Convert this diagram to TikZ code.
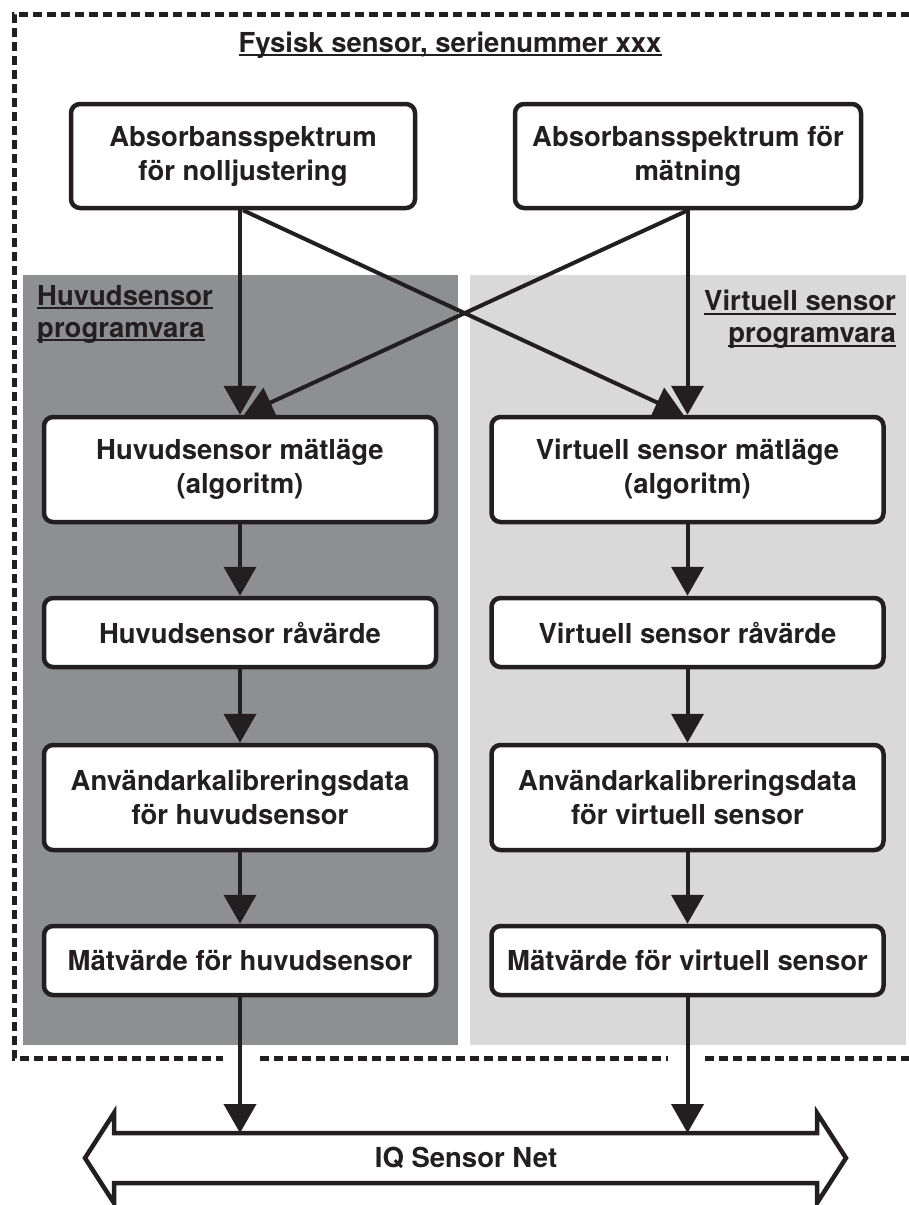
\documentclass[tikz,border=0pt]{standalone}
\usepackage{fontspec}
\setmainfont{TeX Gyre Heros}
\usetikzlibrary{arrows.meta}
\definecolor{ink}{HTML}{231F20}
\definecolor{darkpanel}{HTML}{8E8F91}
\definecolor{lightpanel}{HTML}{D9D9D9}
\newlength\myulw
\newcommand\myul[1]{\settowidth\myulw{#1}\rlap{\rule[-4pt]{\myulw}{2pt}}#1}
\begin{document}
\begin{tikzpicture}[x=1pt,y=-1pt,
  every node/.style={font=\fontsize{27.5}{34}\selectfont\bfseries, text=ink},
  box/.style={draw=ink, line width=4.5pt, rounded corners=9pt, fill=white, align=center, inner sep=0pt},
  colbox/.style={box, minimum width=392pt},
  arr/.style={draw=ink, line width=4pt, -{Triangle[width=32pt,length=29pt]}},
  border/.style={draw=ink, line width=5pt, dash pattern=on 9pt off 5pt},
  lbl/.style={inner sep=0pt, font=\fontsize{27.5}{32}\selectfont\bfseries},
]
\useasboundingbox (0,0) rectangle (908,1205);
% outer dashed border (right side lies outside the picture)
\draw[border] (910,14) -- (14,14) -- (14,1058) -- (223,1058);
\draw[border] (260,1058) -- (668,1058);
\draw[border] (705,1058) -- (910,1058);
% panels
\fill[darkpanel] (23,275) rectangle (458,1045);
\fill[lightpanel] (470,275) rectangle (906,1045);
% title and panel labels
\node[anchor=base, inner sep=0pt] (title) at (450,52) {\myul{Fysisk sensor, serienummer xxx}};
\node[lbl, anchor=north west, align=left] (hlab) at (37,285) {\myul{Huvudsensor}\\\myul{programvara}};
\node[lbl, anchor=north east, align=right] (vlab) at (896,290) {\myul{Virtuell sensor}\\\myul{programvara}};
% boxes
\node[box, minimum width=344pt, minimum height=104pt] (tl) at (243,156) {Absorbansspektrum\\för nolljustering};
\node[box, minimum width=346pt, minimum height=104pt] (tr) at (688,156) {Absorbansspektrum för\\mätning};
\node[colbox, minimum height=105pt] (ml) at (240,469.5) {Huvudsensor mätläge\\(algoritm)};
\node[colbox, minimum height=105pt] (mr) at (687.5,469.5) {Virtuell sensor mätläge\\(algoritm)};
\node[colbox, minimum height=69pt] (rl) at (240,632.5) {Huvudsensor råvärde};
\node[colbox, minimum height=69pt] (rr) at (687.5,632.5) {Virtuell sensor råvärde};
\node[colbox, minimum height=105pt] (kl) at (240,797.5) {Användarkalibreringsdata\\för huvudsensor};
\node[colbox, minimum height=105pt] (kr) at (687.5,797.5) {Användarkalibreringsdata\\för virtuell sensor};
\node[colbox, minimum height=69pt] (vl) at (240,960.5) {Mätvärde för huvudsensor};
\node[colbox, minimum height=69pt] (vr) at (687.5,960.5) {Mätvärde för virtuell sensor};
% bus arrow
\draw[ink, line width=4.5pt, fill=white, line join=miter]
  (85,1158) -- (114,1113) -- (114,1133) -- (817,1133) -- (817,1113) -- (846,1158)
  -- (817,1203) -- (817,1183) -- (114,1183) -- (114,1203) -- cycle;
\node (net) at (466,1158) {IQ Sensor Net};
\coordinate (netL) at (240,1133);
\coordinate (netR) at (687.5,1133);
% connectors
\draw[arr] (tl.south -| ml.north) -- (ml.north);
\draw[arr] (tl.south) -- ([xshift=-4pt]mr.north);
\draw[arr] (tr.south -| mr.north) -- (mr.north);
\draw[arr] (tr.south) -- ([xshift=4pt]ml.north);
\draw[arr] (ml) -- (rl);
\draw[arr] (rl) -- (kl);
\draw[arr] (kl) -- (vl);
\draw[arr] (mr) -- (rr);
\draw[arr] (rr) -- (kr);
\draw[arr] (kr) -- (vr);
\draw[arr] (vl) -- (netL);
\draw[arr] (vr) -- (netR);
\end{tikzpicture}
\end{document}
